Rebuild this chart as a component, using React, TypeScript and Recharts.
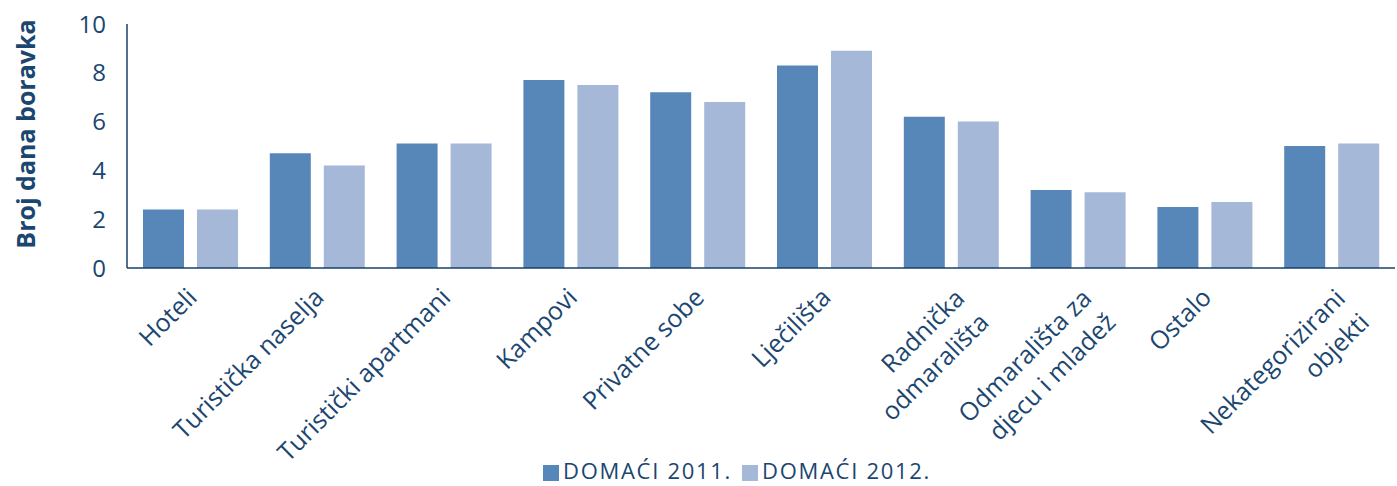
import React from 'react';
import { BarChart, Bar, XAxis, YAxis, Legend, Label } from 'recharts';

const categories = [
  'Hoteli',
  'Turistička naselja',
  'Turistički apartmani',
  'Kampovi',
  'Privatne sobe',
  'Lječilišta',
  'Radnička\nodmarališta',
  'Odmarališta za\ndjecu i mladež',
  'Ostalo',
  'Nekategorizirani\nobjekti',
];
const domaci2011 = [2.4, 4.7, 5.1, 7.7, 7.2, 8.3, 6.2, 3.2, 2.5, 5.0];
const domaci2012 = [2.4, 4.2, 5.1, 7.5, 6.8, 8.9, 6.0, 3.1, 2.7, 5.1];
const yTicks = [0, 2, 4, 6, 8, 10];

const TEXT = '#1b4670';
const AXIS = '#17406a';
const FONT = '"Open Sans", sans-serif';

const data = categories.map((name, i) => ({
  name,
  d2011: domaci2011[i],
  d2012: domaci2012[i],
}));

// rotated category label, wrapped lines stay right-aligned like in Excel
const CategoryTick = (props: any) => {
  const { x, y, payload } = props;
  const lines = String(payload.value).split('\n');
  const multi = lines.length > 1;
  const dx = multi ? 15 : 8;
  const dy = multi ? 32 : 31;
  return (
    <g transform={`translate(${x + dx},${y + dy})`}>
      <text transform="rotate(-45)" textAnchor="end" fill={TEXT} fontSize={25} fontFamily={FONT}>
        {lines.map((l, i) => (
          <tspan key={i} x={0} dy={i === 0 ? 0 : 34}>
            {l}
          </tspan>
        ))}
      </text>
    </g>
  );
};

export default function App() {
  return (
    <div style={{ width: 1397, height: 486 }}>
      <style>{`body{margin:0}`}</style>
      <BarChart
        width={1397}
        height={486}
        data={data}
        margin={{ top: 24, right: 2, left: 0, bottom: 0 }}
        barCategoryGap={16}
        barGap={13}
      >
        <XAxis
          dataKey="name"
          interval={0}
          tickLine={false}
          tickSize={0}
          tickMargin={0}
          height={194}
          axisLine={{ stroke: AXIS, strokeWidth: 1.5 }}
          tick={<CategoryTick />}
        />
        <YAxis
          domain={[0, 10]}
          ticks={yTicks}
          width={127}
          tickLine={false}
          tickSize={0}
          tickMargin={21}
          axisLine={{ stroke: AXIS, strokeWidth: 1.5 }}
          tick={{ fill: TEXT, fontSize: 24, fontFamily: FONT }}
        >
          <Label
            content={(p: any) => {
              const vb = p.viewBox;
              return (
                <text
                  transform={`translate(${vb.x + 25},${vb.y + vb.height / 2 - 12}) rotate(-90)`}
                  textAnchor="middle"
                  dominantBaseline="central"
                  fill={TEXT}
                  fontSize={25}
                  fontWeight="bold"
                  fontFamily={FONT}
                >
                  Broj dana boravka
                </text>
              );
            }}
          />
        </YAxis>
        <Legend
          verticalAlign="bottom"
          height={24}
          iconType="square"
          iconSize={16}
          wrapperStyle={{
            fontFamily: FONT,
            fontSize: 22,
            lineHeight: '24px',
            letterSpacing: 1.7,
            left: 81,
            width: 1322,
            bottom: 4,
          }}
          formatter={(v: string) => <span style={{ color: TEXT }}>{v}</span>}
        />
        <Bar dataKey="d2011" name="DOMAĆI 2011." fill="#5787b8" isAnimationActive={false} />
        <Bar dataKey="d2012" name="DOMAĆI 2012." fill="#a6b8d8" isAnimationActive={false} />
      </BarChart>
    </div>
  );
}
